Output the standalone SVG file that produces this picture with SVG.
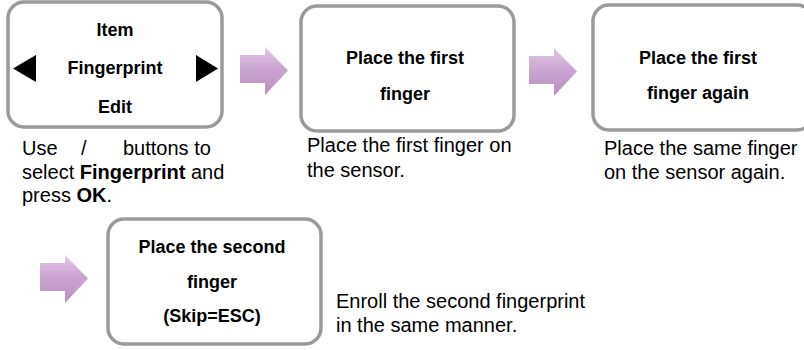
<svg xmlns="http://www.w3.org/2000/svg" width="804" height="350" viewBox="0 0 804 350">
<style>
.box{fill:#fff;stroke:#9a9a9a;stroke-width:3.5}
.bt{font-family:"Liberation Sans",Arial,sans-serif;font-size:18px;font-weight:bold;text-anchor:middle;fill:#000}
.cap{font-family:"Liberation Sans",Arial,sans-serif;font-size:20px;fill:#000}
.arr{fill:url(#g)}
</style>
<defs>
<linearGradient id="g" x1="0" y1="0" x2="0" y2="1">
<stop offset="0" stop-color="#e2c8e6"/>
<stop offset="0.5" stop-color="#c9a2cf"/>
<stop offset="1" stop-color="#b891bf"/>
</linearGradient>
<path id="ar" d="M0,8 H25 V0 L48,23.5 L25,48 V36 H0 Z"/>
</defs>
<g id="connectors">
<use href="#ar" class="arr" x="240" y="47"/>
<use href="#ar" class="arr" x="529" y="48"/>
<use href="#ar" class="arr" x="40" y="255"/>
</g>
<g id="node1">
<rect class="box" x="8" y="2" width="214" height="125" rx="16"/>
<text class="bt" x="115" y="36">Item</text>
<text class="bt" x="115" y="74">Fingerprint</text>
<text class="bt" x="115" y="113">Edit</text>
<polygon points="36,55 36,82 13,68.5" fill="#000"/>
<polygon points="196,55 196,82 218,68.5" fill="#000"/>
<text class="cap" x="22" y="155">Use<tspan x="81">/</tspan><tspan x="123">buttons to</tspan></text>
<text class="cap" x="22" y="179">select <tspan font-weight="bold">Fingerprint</tspan> and</text>
<text class="cap" x="22" y="202">press <tspan font-weight="bold">OK</tspan>.</text>
</g>
<g id="node2">
<rect class="box" x="301" y="6" width="213" height="125" rx="16"/>
<text class="bt" x="405" y="64">Place the first</text>
<text class="bt" x="405" y="100">finger</text>
<text class="cap" x="307" y="152">Place the first finger on</text>
<text class="cap" x="307" y="177">the sensor.</text>
</g>
<g id="node3">
<rect class="box" x="593" y="5" width="220" height="125" rx="16"/>
<text class="bt" x="698" y="64">Place the first</text>
<text class="bt" x="698" y="99">finger again</text>
<text class="cap" x="604" y="155">Place the same finger</text>
<text class="cap" x="604" y="179">on the sensor again.</text>
</g>
<g id="node4">
<rect class="box" x="108" y="219" width="213" height="125" rx="16"/>
<text class="bt" x="212" y="253">Place the second</text>
<text class="bt" x="212" y="288">finger</text>
<text class="bt" x="212" y="322">(Skip=ESC)</text>
<text class="cap" x="336" y="308">Enroll the second fingerprint</text>
<text class="cap" x="336" y="332">in the same manner.</text>
</g>
</svg>
